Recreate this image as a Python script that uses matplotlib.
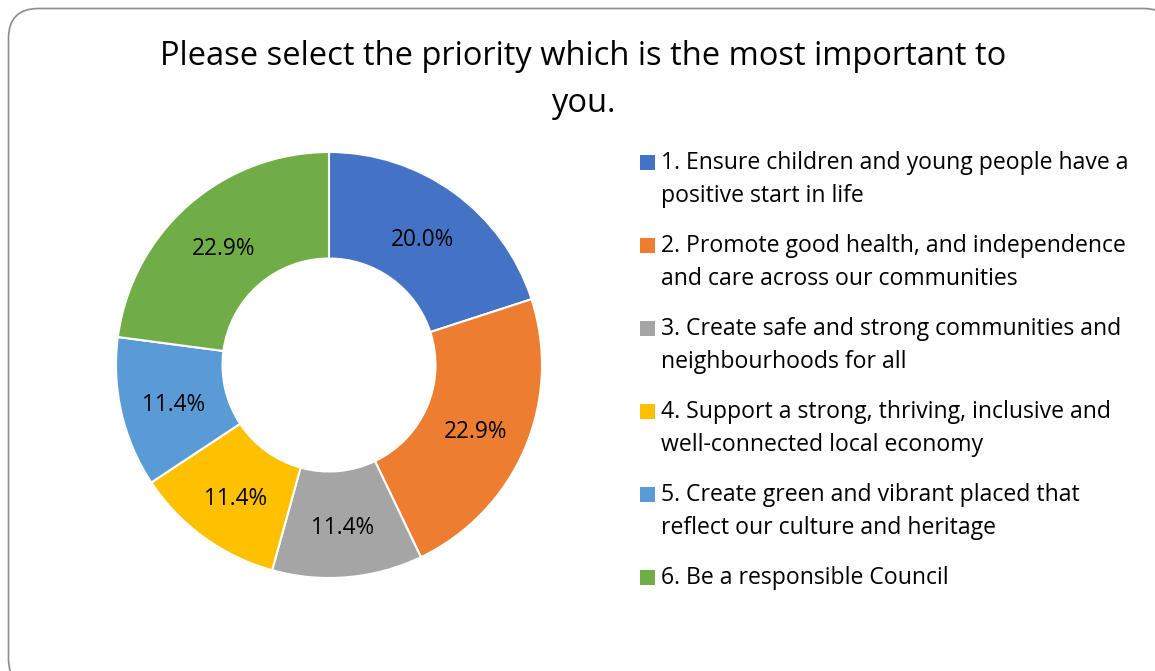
import numpy as np
import matplotlib.pyplot as plt
from matplotlib.patches import FancyBboxPatch, Rectangle

# 데이터
percentages = [20.0, 22.9, 11.4, 11.4, 11.4, 22.9]
legend_labels = [
    '1. Ensure children and young people have a\npositive start in life',
    '2. Promote good health, and independence\nand care across our communities',
    '3. Create safe and strong communities and\nneighbourhoods for all',
    '4. Support a strong, thriving, inclusive and\nwell-connected local economy',
    '5. Create green and vibrant placed that\nreflect our culture and heritage',
    '6. Be a responsible Council',
]
colors = ['#4472C4', '#ED7D31', '#A5A5A5', '#FFC000', '#5B9BD5', '#70AD47']
title = 'Please select the priority which is the most important to\nyou.'

W, H = 1155, 671
FONT = 'Open Sans'

fig = plt.figure(figsize=(W / 100, H / 100), dpi=100)

# 배경/테두리/범례용 전체 축 (픽셀 좌표)
bg = fig.add_axes([0, 0, 1, 1])
bg.set_xlim(0, W)
bg.set_ylim(H, 0)
bg.axis('off')
bg.add_patch(FancyBboxPatch((8.5, 8.5), 1165, 680,
                            boxstyle='round,pad=0,rounding_size=30',
                            fc='white', ec='#8c8c8c', lw=1.2))

bg.text(583, 80, title, ha='center', va='center', fontsize=23.5,
        family=FONT, color='black', linespacing=1.55)

# 도넛 차트
cx, cy, r = 329, 365, 213
ax = fig.add_axes([(cx - r) / W, (H - cy - r) / H, 2 * r / W, 2 * r / H])
ax.pie(percentages, colors=colors, startangle=90, counterclock=False,
       radius=1, wedgeprops=dict(width=0.5, edgecolor='white', linewidth=1.5))
ax.set_xlim(-1, 1)
ax.set_ylim(-1, 1)

# 데이터 레이블 (고리 중앙)
start = 90
for p in percentages:
    mid = np.deg2rad(start - p * 3.6 / 2)
    ax.text(0.75 * np.cos(mid), 0.75 * np.sin(mid) - 0.02, f'{p:.1f}%',
            ha='center', va='center', fontsize=16.3, family=FONT, color='black')
    start -= p * 3.6

# 범례
y0, step = 163, 83
for i, (lab, col) in enumerate(zip(legend_labels, colors)):
    y = y0 + i * step
    bg.add_patch(Rectangle((640, y - 8.5), 15, 15, fc=col, ec='none'))
    for j, line in enumerate(lab.split('\n')):
        bg.text(661, y + j * 33, line, ha='left', va='center', fontsize=16.6,
                family=FONT, color='black')

fig.savefig('out.png', dpi=100)
